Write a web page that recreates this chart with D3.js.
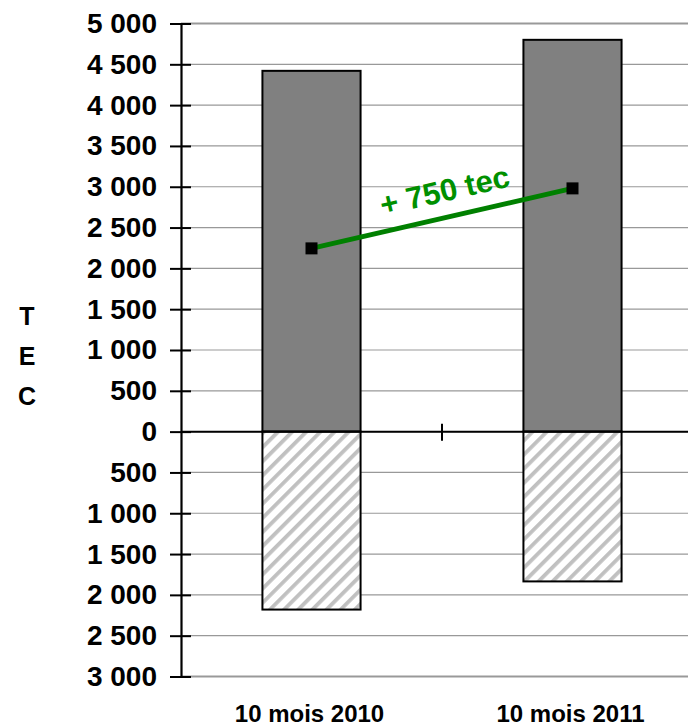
<!DOCTYPE html>
<html><head><meta charset="utf-8">
<script src="https://cdn.jsdelivr.net/npm/d3@7"></script>
<style>body{margin:0;background:#fff}svg{display:block;font-family:Arial,"Liberation Sans",sans-serif}</style>
</head><body><svg id="c" width="688" height="727"></svg>
<script>
const categories = ["10 mois 2010", "10 mois 2011"];
const positiveValues = [4420, 4800];
const negativeValues = [-2180, -1835];
const lineValues = [2245, 2980];
const tickValues = d3.range(-3000, 5001, 500);
const axisTitle = ["T", "E", "C"];
const annotation = "+ 750 tec";

const svg = d3.select("#c");
const y = d3.scaleLinear().domain([-3000, 5000]).range([676.5, 23.5]);
const x = d3.scaleBand().domain(categories).range([181, 703]).padding(0);
const barW = x.bandwidth() * 0.376;
const cx = d => x(d) + x.bandwidth() / 2;

const defs = svg.append("defs");
const pat = defs.append("pattern").attr("id", "hatch").attr("patternUnits", "userSpaceOnUse")
  .attr("width", 10).attr("height", 10).attr("patternTransform", "rotate(45)");
pat.append("rect").attr("width", 10).attr("height", 10).attr("fill", "#fff");
pat.append("rect").attr("x", 0).attr("width", 3.8).attr("height", 10).attr("fill", "#c0c0c0");

// gridlines
svg.append("g").selectAll("line").data(tickValues).join("line")
  .attr("x1", 181).attr("x2", 688)
  .attr("y1", d => y(d)).attr("y2", d => y(d))
  .attr("stroke", "#999")
  .attr("stroke-width", d => (d === 5000 || d === -3000) ? 2.2 : 1.2);

// bars
const fmt = v => d3.format(",")(Math.abs(v)).replace(/,/g, " ");
svg.append("g").selectAll("rect").data(categories).join("rect")
  .attr("x", d => cx(d) - barW / 2).attr("width", barW)
  .attr("y", (d, i) => y(positiveValues[i]))
  .attr("height", (d, i) => y(0) - y(positiveValues[i]))
  .attr("fill", "#808080").attr("stroke", "#000").attr("stroke-width", 2);
svg.append("g").selectAll("rect").data(categories).join("rect")
  .attr("x", d => cx(d) - barW / 2).attr("width", barW)
  .attr("y", y(0))
  .attr("height", (d, i) => y(negativeValues[i]) - y(0))
  .attr("fill", "url(#hatch)").attr("stroke", "#000").attr("stroke-width", 2);

// zero line
svg.append("line").attr("x1", 181).attr("x2", 688).attr("y1", y(0)).attr("y2", y(0))
  .attr("stroke", "#000").attr("stroke-width", 2);
svg.append("line").attr("x1", x(categories[1])).attr("x2", x(categories[1]))
  .attr("y1", y(0) - 8).attr("y2", y(0) + 9).attr("stroke", "#000").attr("stroke-width", 2);

// y axis
const yAxis = d3.axisLeft(y).tickValues(tickValues).tickFormat(fmt).tickSizeInner(11).tickSizeOuter(0).tickPadding(13);
const ga = svg.append("g").attr("transform", "translate(181,0)").call(yAxis);
ga.select(".domain").attr("stroke", "#000").attr("stroke-width", 2.2);
ga.selectAll(".tick line").attr("stroke", "#000").attr("stroke-width", 2).attr("x2", 10).attr("x1", -11);
ga.selectAll(".tick text").attr("font-size", 28).attr("font-weight", "bold").attr("fill", "#000")
  .attr("font-family", "Arial, 'Liberation Sans', sans-serif");

// line
const line = d3.line().x((d, i) => cx(categories[i])).y(d => y(d));
svg.append("path").datum(lineValues).attr("d", line)
  .attr("fill", "none").attr("stroke", "#008000").attr("stroke-width", 5);
svg.append("g").selectAll("rect").data(lineValues).join("rect")
  .attr("x", (d, i) => cx(categories[i]) - 6).attr("y", d => y(d) - 6)
  .attr("width", 12).attr("height", 12).attr("fill", "#000");

// annotation
const p0 = [cx(categories[0]), y(lineValues[0])], p1 = [cx(categories[1]), y(lineValues[1])];
const ang = Math.atan2(p1[1] - p0[1], p1[0] - p0[0]) * 180 / Math.PI;
svg.append("text").attr("transform", `translate(447,201) rotate(${ang})`)
  .attr("text-anchor", "middle").attr("font-size", 31).attr("font-weight", "bold")
  .attr("fill", "#009000").text(annotation);

// category labels
svg.append("g").selectAll("text").data(categories).join("text")
  .attr("x", d => cx(d) - 2).attr("y", 722).attr("text-anchor", "middle")
  .attr("font-size", 24).attr("font-weight", "bold").text(d => d);

// axis title
svg.append("g").selectAll("text").data(axisTitle).join("text")
  .attr("x", 27).attr("y", (d, i) => 325 + i * 40).attr("text-anchor", "middle")
  .attr("font-size", 25).attr("font-weight", "bold").text(d => d);
</script></body></html>
